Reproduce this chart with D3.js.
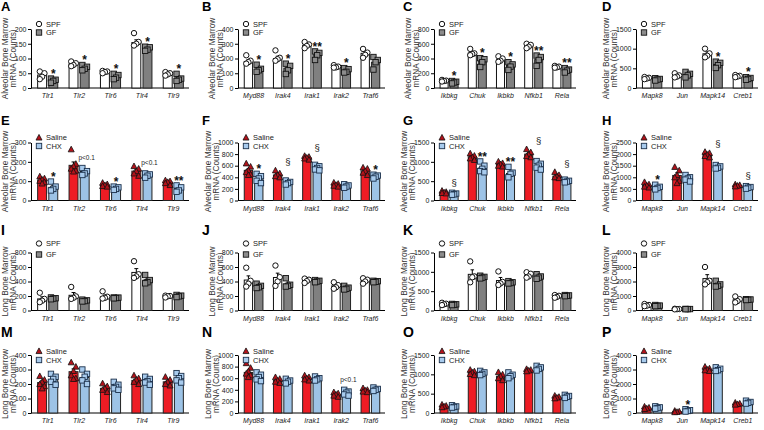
<!DOCTYPE html>
<html><head><meta charset="utf-8">
<script src="https://cdn.jsdelivr.net/npm/d3@7"></script>
<style>body{margin:0;background:#fff}svg{display:block}text{font-family:"Liberation Sans",Arial,sans-serif}</style>
</head><body><svg id="c" width="764" height="430"></svg>
<script>
// ---------- categories ----------
const tlrCats = ["Tlr1","Tlr2","Tlr6","Tlr4","Tlr9"];
const mydCats = ["Myd88","Irak4","Irak1","Irak2","Traf6"];
const nfkCats = ["Ikbkg","Chuk","Ikbkb","Nfkb1","Rela"];
const mapCats = ["Mapk8","Jun","Mapk14","Creb1"];
const gfGroups = ["SPF","GF"];
const chxGroups = ["Saline","CHX"];
const alvTitle = ["Alveolar Bone Marrow","mRNA  (Counts)"];
const longTitle = ["Long Bone Marrow","mRNA  (Counts)"];

// ---------- A ----------
const A_ticks = [0,50,100,150,200];
const A_spfMean = [44,82,55,154,48];
const A_spfPts = [[56,50,38,30],[90,84,78,74],[58,56,54,50],[186,156,150,144],[54,50,46,42]];
const A_gfMean = [28,70,42,135,34];
const A_gfPts = [[32,28,24,18],[78,72,65,60],[48,44,35,30],[140,138,130,126],[48,32,28,24]];
const A_marks = ["*","*","*","*","*"];
// ---------- B ----------
const B_ticks = [0,100,200,300,400];
const B_spfMean = [180,200,290,145,235];
const B_spfPts = [[222,185,175,165],[255,205,195,185],[312,295,285,270],[155,145,140,138],[265,240,225,205]];
const B_gfMean = [128,135,225,120,175];
const B_gfPts = [[158,130,120,110],[165,150,120,95],[248,238,222,190],[135,128,110,105],[210,190,175,125]];
const B_marks = ["*","*","**","*",""];
// ---------- C ----------
const C_ticks = [0,200,400,600,800];
const C_spfMean = [98,475,385,570,285];
const C_spfPts = [[110,100,95,88],[530,470,460,445],[430,400,370,355],[600,585,560,540],[300,290,280,275]];
const C_gfMean = [80,370,305,385,240];
const C_gfPts = [[95,85,75,62],[405,390,350,285],[350,320,290,245],[440,420,380,300],[270,250,235,210]];
const C_marks = ["*","*","*","**","**"];
// ---------- D ----------
const D_ticks = [0,500,1000,1500];
const D_spfMean = [250,315,870,300];
const D_spfPts = [[280,260,240,225],[375,320,290,270],[1000,880,820,780],[330,310,290,275]];
const D_gfMean = [220,340,600,240];
const D_gfPts = [[250,230,215,190],[410,360,320,270],[670,640,580,510],[275,255,230,210]];
const D_marks = ["","","*","*"];
// ---------- E ----------
const E_ticks = [0,100,200,300];
const E_salMean = [106,182,80,152,95];
const E_salPts = [[125,115,108,102,95,88],[265,190,178,165,155,150],[92,85,80,75,72],[178,165,152,140,128],[105,100,96,90,80]];
const E_chxMean = [68,150,64,130,62];
const E_chxPts = [[98,72,60,52],[168,152,140,132],[72,68,60,55],[140,135,128,118],[78,68,52,45]];
const E_marks = ["*","p<0.1","*","p<0.1","**"];
// ---------- F ----------
const F_ticks = [0,200,400,600,800,1000];
const F_salMean = [520,440,740,275,510];
const F_salPts = [[640,585,520,490,450,440],[520,470,440,420,400],[770,755,740,725,705],[310,290,270,255,240],[570,550,510,480,440]];
const F_chxMean = [380,310,565,250,415];
const F_chxPts = [[460,420,380,340,300],[345,320,300,275],[615,590,560,535,520],[280,260,240,220],[445,430,410,380]];
const F_marks = ["*","§","§","","*"];
// ---------- G ----------
const G_ticks = [0,500,1000,1500];
const G_salMean = [215,1130,940,1200,630];
const G_salPts = [[255,225,210,195,185],[1220,1160,1120,1090,1050],[1010,970,940,900,880],[1330,1250,1190,1150,1120],[740,660,620,600,580]];
const G_chxMean = [170,840,700,905,500];
const G_chxPts = [[200,180,160,150],[1010,900,820,760,730],[870,720,690,600],[1020,950,900,850,800],[540,510,490,470]];
const G_marks = ["§","**","**","§","§"];
// ---------- H ----------
const H_ticks = [0,500,1000,1500,2000,2500];
const H_salMean = [650,1080,1980,650];
const H_salPts = [[800,700,650,600,560],[1450,1300,1100,1000,850,750],[2100,2050,1980,1920,1860],[700,670,640,610]];
const H_chxMean = [560,955,1450,565];
const H_chxPts = [[680,590,540,480],[1100,1000,950,900,820],[1530,1470,1410,1380],[620,580,550,510]];
const H_marks = ["*","","§","§"];
// ---------- I ----------
const I_ticks = [0,200,400,600,800];
const I_spfMean = [160,210,190,525,195];
const I_spfPts = [[245,160,135,115],[325,195,175,160],[265,190,175,165],[680,500,470,450],[205,200,195,180]];
const I_gfMean = [168,136,175,420,200];
const I_gfPts = [[180,170,165,155],[150,140,130,125],[180,178,172,168],[490,420,390,375],[215,205,195,185]];
// ---------- J ----------
const J_ticks = [0,200,400,600,800];
const J_spfMean = [420,455,415,340,410];
const J_spfPts = [[590,410,370,330],[620,460,400,340],[440,425,405,380],[390,350,320,300],[445,425,400,370]];
const J_gfMean = [335,365,405,310,400];
const J_gfPts = [[370,340,320,310],[445,355,340,330],[420,410,400,390],[340,315,300,290],[410,405,395,390]];
// ---------- K ----------
const K_ticks = [0,500,1000,1500];
const K_spfMean = [170,935,775,915,360];
const K_spfPts = [[200,175,160,140],[1270,880,860,730],[1010,740,700,660],[990,950,880,850],[400,380,350,330]];
const K_gfMean = [155,860,725,870,385];
const K_gfPts = [[170,160,150,140],[900,870,850,830],[760,730,710,700],[940,880,850,820],[400,390,380,370]];
// ---------- L ----------
const L_ticks = [0,1000,2000,3000,4000];
const L_spfMean = [365,95,2200,740];
const L_spfPts = [[450,380,330,300],[120,100,90,80],[3000,2050,1950,1800],[970,780,650,560]];
const L_gfMean = [335,100,1800,750];
const L_gfPts = [[380,340,320,300],[110,100,95,90],[2050,1800,1700,1650],[780,760,740,720]];
// ---------- M ----------
const M_ticks = [0,100,200,300,400];
const M_salMean = [210,285,170,225,215];
const M_salPts = [[255,230,215,200,185,170],[350,320,290,260,240,235],[205,185,170,160,145],[260,240,230,215,200],[250,230,215,200,190]];
const M_chxMean = [230,245,180,220,240];
const M_chxPts = [[270,250,235,215,195],[300,270,250,225,200],[215,195,180,170,160],[250,235,220,210,195],[275,255,240,225,210]];
// ---------- N ----------
const N_ticks = [0,200,400,600,800,1000];
const N_salMean = [700,560,600,320,390];
const N_salPts = [[860,780,720,680,650,620],[620,590,560,540,520],[650,620,600,580,560],[360,340,320,300,280],[430,400,390,370,360]];
const N_chxMean = [620,540,590,350,400];
const N_chxPts = [[700,660,620,580,550],[590,560,540,510],[630,600,580,560],[400,370,350,320,300],[440,415,400,380]];
const N_marks = ["","","","p<0.1",""];
// ---------- O ----------
const O_ticks = [0,500,1000,1500];
const O_salMean = [170,1050,950,1100,400];
const O_salPts = [[220,190,170,150],[1120,1080,1050,1010,980],[1060,1000,950,900,850],[1140,1120,1100,1080],[450,420,400,380]];
const O_chxMean = [160,1030,960,1150,420];
const O_chxPts = [[200,170,155,140],[1090,1050,1010,980],[1050,990,950,900],[1220,1180,1140,1100],[470,440,420,390]];
// ---------- P ----------
const P_ticks = [0,1000,2000,3000,4000];
const P_salMean = [330,100,3000,620];
const P_salPts = [[450,380,320,280],[160,110,80,60],[3200,3080,3000,2950,2900],[720,660,620,580]];
const P_chxMean = [350,170,3000,720];
const P_chxPts = [[460,390,340,300],[260,190,140,100],[3150,3050,2950,2900],[850,760,700,650]];
const P_marks = ["","*","",""];

// ---------- layout ----------
const colX = [[31,189],[238,385],[434,576],[636,758]];
const rowY = [[29,88],[142.5,200.5],[252.5,310.5],[355,413]];
const letterX = [1,202,403,602];
const letterY = [11,125,235,337];
const legOff = [[-5,3.5],[-5,3.5],[-9,2],[-4,5]];

const panels = [
 {L:"A",r:0,c:0,cats:tlrCats,ticks:A_ticks,m1:A_spfMean,p1:A_spfPts,m2:A_gfMean,p2:A_gfPts,marks:A_marks,kind:"gf"},
 {L:"B",r:0,c:1,cats:mydCats,ticks:B_ticks,m1:B_spfMean,p1:B_spfPts,m2:B_gfMean,p2:B_gfPts,marks:B_marks,kind:"gf"},
 {L:"C",r:0,c:2,cats:nfkCats,ticks:C_ticks,m1:C_spfMean,p1:C_spfPts,m2:C_gfMean,p2:C_gfPts,marks:C_marks,kind:"gf"},
 {L:"D",r:0,c:3,cats:mapCats,ticks:D_ticks,m1:D_spfMean,p1:D_spfPts,m2:D_gfMean,p2:D_gfPts,marks:D_marks,kind:"gf"},
 {L:"E",r:1,c:0,cats:tlrCats,ticks:E_ticks,m1:E_salMean,p1:E_salPts,m2:E_chxMean,p2:E_chxPts,marks:E_marks,kind:"chx"},
 {L:"F",r:1,c:1,cats:mydCats,ticks:F_ticks,m1:F_salMean,p1:F_salPts,m2:F_chxMean,p2:F_chxPts,marks:F_marks,kind:"chx"},
 {L:"G",r:1,c:2,cats:nfkCats,ticks:G_ticks,m1:G_salMean,p1:G_salPts,m2:G_chxMean,p2:G_chxPts,marks:G_marks,kind:"chx"},
 {L:"H",r:1,c:3,cats:mapCats,ticks:H_ticks,m1:H_salMean,p1:H_salPts,m2:H_chxMean,p2:H_chxPts,marks:H_marks,kind:"chx"},
 {L:"I",r:2,c:0,cats:tlrCats,ticks:I_ticks,m1:I_spfMean,p1:I_spfPts,m2:I_gfMean,p2:I_gfPts,marks:null,kind:"gf"},
 {L:"J",r:2,c:1,cats:mydCats,ticks:J_ticks,m1:J_spfMean,p1:J_spfPts,m2:J_gfMean,p2:J_gfPts,marks:null,kind:"gf"},
 {L:"K",r:2,c:2,cats:nfkCats,ticks:K_ticks,m1:K_spfMean,p1:K_spfPts,m2:K_gfMean,p2:K_gfPts,marks:null,kind:"gf"},
 {L:"L",r:2,c:3,cats:mapCats,ticks:L_ticks,m1:L_spfMean,p1:L_spfPts,m2:L_gfMean,p2:L_gfPts,marks:null,kind:"gf"},
 {L:"M",r:3,c:0,cats:tlrCats,ticks:M_ticks,m1:M_salMean,p1:M_salPts,m2:M_chxMean,p2:M_chxPts,marks:null,kind:"chx"},
 {L:"N",r:3,c:1,cats:mydCats,ticks:N_ticks,m1:N_salMean,p1:N_salPts,m2:N_chxMean,p2:N_chxPts,marks:N_marks,kind:"chx"},
 {L:"O",r:3,c:2,cats:nfkCats,ticks:O_ticks,m1:O_salMean,p1:O_salPts,m2:O_chxMean,p2:O_chxPts,marks:null,kind:"chx"},
 {L:"P",r:3,c:3,cats:mapCats,ticks:P_ticks,m1:P_salMean,p1:P_salPts,m2:P_chxMean,p2:P_chxPts,marks:P_marks,kind:"chx"}
];

const styles = {
  gf: [{fill:"#ffffff",stroke:"#111",pfill:"#ffffff",pstroke:"#111",shape:"circle"},
       {fill:"#808080",stroke:"#222",pfill:"#8c8c8c",pstroke:"#111",shape:"square"}],
  chx:[{fill:"#ee1c24",stroke:"#222",pfill:"#b3121a",pstroke:"#111",shape:"triangle"},
       {fill:"#9dc3e6",stroke:"#222",pfill:"#a8cbed",pstroke:"#1a2f4a",shape:"square"}]
};

const svg = d3.select("#c");
svg.append("rect").attr("width",764).attr("height",430).attr("fill","#fff");

function drawSymbol(g, shape, x, y, s, st){
  if(shape==="circle"){
    g.append("circle").attr("cx",x).attr("cy",y).attr("r",s*0.5).attr("fill",st.pfill).attr("stroke",st.pstroke).attr("stroke-width",1);
  } else if(shape==="square"){
    g.append("rect").attr("x",x-s/2).attr("y",y-s/2).attr("width",s).attr("height",s).attr("fill",st.pfill).attr("stroke",st.pstroke).attr("stroke-width",0.9);
  } else {
    const h=s*0.95;
    g.append("path").attr("d",`M${x},${y-h/2-0.5}L${x+s/2+0.3},${y+h/2}L${x-s/2-0.3},${y+h/2}Z`).attr("fill",st.pfill).attr("stroke",st.pstroke).attr("stroke-width",0.8);
  }
}

const spread = [-0.26,0.26,0,-0.26,0.26,0];

panels.forEach(p=>{
  const [x0,x1] = colX[p.c];
  const [yt,yb] = rowY[p.r];
  const g = svg.append("g");
  const y = d3.scaleLinear().domain([0,p.ticks[p.ticks.length-1]]).range([yb,yt]);
  const x = d3.scaleBand().domain(p.cats).range([x0+1,x1]).paddingInner(0).paddingOuter(0);
  const step = x.step();
  const w = step*0.285, gap = step*0.07;
  const st = styles[p.kind];
  const groups = p.kind==="gf"?gfGroups:chxGroups;
  const title = p.r<2?alvTitle:longTitle;

  // panel letter
  svg.append("text").attr("x",letterX[p.c]).attr("y",letterY[p.r]).text(p.L)
    .attr("font-size",p.r>=2?14:13).attr("font-weight","bold").attr("fill","#000");

  // y axis
  const ax = g.append("g").attr("transform",`translate(${x0},0)`)
    .call(d3.axisLeft(y).tickValues(p.ticks).tickSize(3).tickSizeOuter(0).tickPadding(1.5).tickFormat(d3.format("d")));
  ax.selectAll("text").attr("font-size",7).attr("fill","#222").style("font-family","'Liberation Sans',Arial,sans-serif");
  ax.selectAll("line,path").attr("stroke","#000").attr("stroke-width",1);

  // y title
  const nch = d3.max(p.ticks, t=>String(t).length);
  const tx2 = x0 - 8 - nch*3.5, tx1 = tx2 - 8;
  const ym = (yt+yb)/2;
  [tx1,tx2].forEach((tx,i)=>{
    g.append("text").attr("transform",`translate(${tx},${ym}) rotate(-90)`)
      .attr("text-anchor","middle").attr("dominant-baseline","central")
      .attr("font-size",8.3).attr("fill","#333").text(title[i]);
  });

  // x axis line
  g.append("line").attr("x1",x0).attr("x2",x1).attr("y1",yb).attr("y2",yb).attr("stroke","#000").attr("stroke-width",1);

  // category labels
  p.cats.forEach(cat=>{
    g.append("text").attr("x",x(cat)+step/2).attr("y",yb+10).attr("text-anchor","middle")
      .attr("font-size",7).attr("font-style","italic").attr("fill","#222").text(cat);
  });

  // bars, points, error bars
  const series = [{m:p.m1,pts:p.p1},{m:p.m2,pts:p.p2}];
  p.cats.forEach((cat,ci)=>{
    const cx = x(cat)+step/2;
    series.forEach((s,si)=>{
      const bx = si===0 ? cx-gap/2-w : cx+gap/2;
      const mean = s.m[ci];
      const pts = s.pts[ci];
      const sem = d3.deviation(pts)/Math.sqrt(pts.length);
      g.append("rect").attr("x",bx).attr("y",y(mean)).attr("width",w).attr("height",yb-y(mean))
        .attr("fill",st[si].fill).attr("stroke",st[si].stroke).attr("stroke-width",1);
      const bc = bx+w/2;
      g.append("line").attr("x1",bc).attr("x2",bc).attr("y1",y(mean)).attr("y2",y(mean+sem)).attr("stroke","#000").attr("stroke-width",1);
      g.append("line").attr("x1",bc-w*0.22).attr("x2",bc+w*0.22).attr("y1",y(mean+sem)).attr("y2",y(mean+sem)).attr("stroke","#000").attr("stroke-width",1);
      pts.forEach((v,i)=>{
        drawSymbol(g, st[si].shape, bc+spread[i%6]*w, y(v), 5.4, st[si]);
      });
    });
    // significance marks
    if(p.marks && p.marks[ci]){
      const mk = p.marks[ci];
      const bc2 = cx+gap/2+w/2;
      const pts2 = p.p2[ci];
      const sem2 = d3.deviation(pts2)/Math.sqrt(pts2.length);
      const top2 = Math.max(d3.max(pts2), p.m2[ci]+sem2);
      const topAll = Math.max(top2, d3.max(p.p1[ci]));
      if(mk==="§"){
        g.append("text").attr("x",bc2).attr("y",y(topAll)-5).attr("text-anchor","middle").attr("font-size",9.5).attr("fill","#111").text(mk);
      } else if(mk.startsWith("p")){
        g.append("text").attr("x",bc2+2).attr("y",y(top2)-8).attr("text-anchor","middle").attr("font-size",6.5).attr("fill","#222").text(mk);
      } else {
        g.append("text").attr("x",bc2).attr("y",y(top2)+3.5).attr("text-anchor","middle").attr("font-size",12).attr("font-weight","bold").attr("fill","#111").attr("dy","-0.35em").text(mk);
      }
    }
  });

  // legend
  const lx = x0+8;
  [0,1].forEach(i=>{
    const ly = yt + legOff[p.r][i];
    drawSymbol(g, st[i].shape, lx, ly, 5.4, {pfill: st[i].pfill, pstroke:st[i].pstroke});
    g.append("text").attr("x",lx+7).attr("y",ly).attr("dominant-baseline","central")
      .attr("font-size",7.5).attr("fill","#222").text(groups[i]);
  });
});
</script></body></html>
